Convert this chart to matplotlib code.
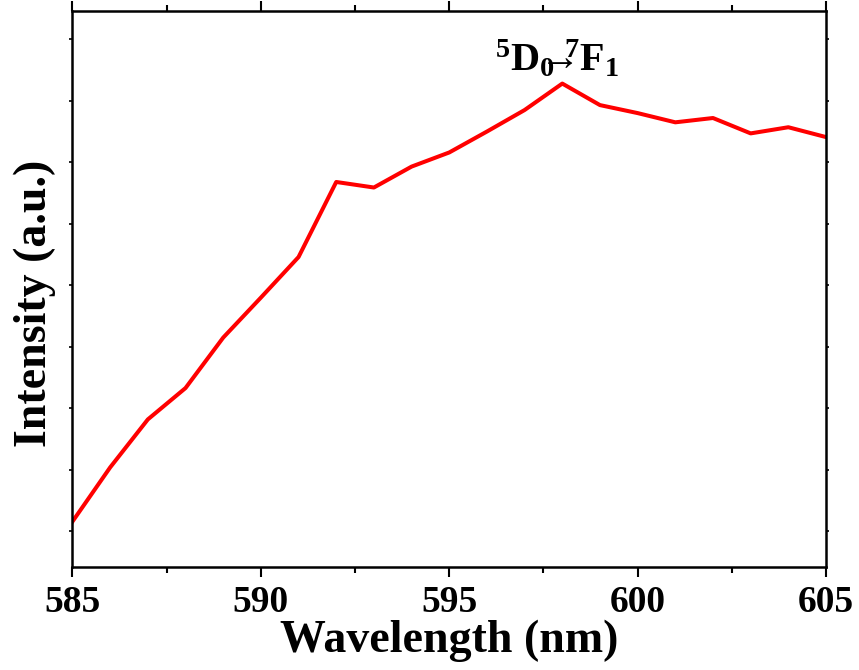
import matplotlib
matplotlib.use("Agg")
import matplotlib.pyplot as plt
from matplotlib.ticker import MultipleLocator, NullFormatter

plt.rcParams['font.family'] = ['Liberation Serif', 'DejaVu Serif']
plt.rcParams['font.weight'] = 'bold'
plt.rcParams['mathtext.fontset'] = 'custom'
plt.rcParams['mathtext.rm'] = 'Liberation Serif:bold'
plt.rcParams['mathtext.it'] = 'Liberation Serif:bold'
plt.rcParams['mathtext.bf'] = 'Liberation Serif:bold'

# emission spectrum around the 5D0 -> 7F1 band
wavelength = [585, 586, 587, 588, 589, 590, 591, 592, 593, 594, 595,
              596, 597, 598, 599, 600, 601, 602, 603, 604, 605]
intensity = [80, 520, 910, 1165, 1575, 1900, 2230, 2840, 2795, 2965, 3080,
             3250, 3425, 3640, 3465, 3400, 3325, 3360, 3235, 3285, 3205]
peak_label = r'$^{5}\mathrm{D}_{0}\!\!\!\!\rightarrow\!\!\!\!^{7}\mathrm{F}_{1}$'

fig = plt.figure(figsize=(8.59, 6.70), dpi=100)
ax = fig.add_axes([0.0844, 0.1537, 0.8772, 0.8299])

ax.plot(wavelength, intensity, color='#ff0000', linewidth=2.9)

ax.set_xlim(585, 605)
ax.set_ylim(-290, 4230)
ax.xaxis.set_major_locator(MultipleLocator(5))
ax.xaxis.set_minor_locator(MultipleLocator(2.5))
ax.yaxis.set_major_locator(MultipleLocator(500))
ax.yaxis.set_major_formatter(NullFormatter())

ax.tick_params(axis='x', which='major', direction='out', length=7, width=1.5,
               labelsize=27, pad=6, top=True)
ax.tick_params(axis='x', which='minor', direction='out', length=4, width=1.5, top=True)
ax.tick_params(axis='y', which='major', direction='out', length=2, width=1.2, right=True)
for s in ax.spines.values():
    s.set_linewidth(1.8)

for lab in ax.get_xticklabels():
    lab.set_fontweight('bold')

ax.set_xlabel('Wavelength (nm)', fontsize=33, fontweight='bold', labelpad=0)
ax.set_ylabel('Intensity (a.u.)', fontsize=33, fontweight='bold')
ax.yaxis.set_label_coords(-0.022, 0.475)

i_peak = intensity.index(max(intensity))
ax.annotate(peak_label, xy=(wavelength[i_peak] - 0.15, intensity[i_peak]),
            xytext=(0, 2), textcoords='offset points',
            ha='center', va='bottom', fontsize=29, fontweight='bold')

fig.savefig('out.png', dpi=100)
